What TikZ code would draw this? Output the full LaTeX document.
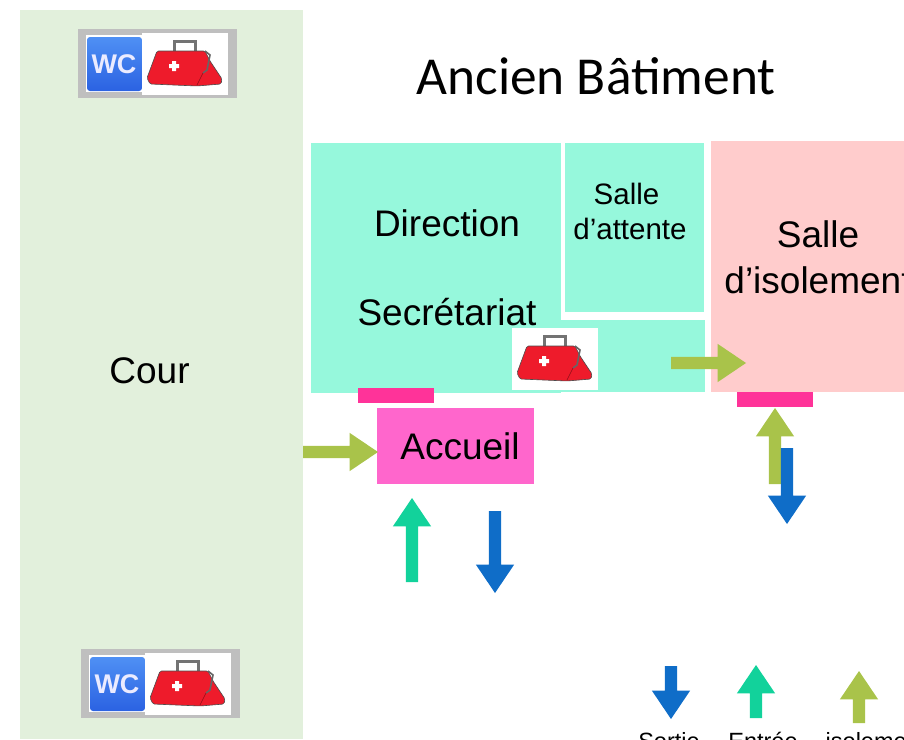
\documentclass[tikz,border=0pt]{standalone}
\usepackage{fontspec}
\setmainfont{Liberation Sans}
\newfontfamily\titlefont{Carlito}
\usetikzlibrary{shapes.arrows}
\definecolor{courgreen}{HTML}{E2F0DC}
\definecolor{roomteal}{HTML}{96F8DC}
\definecolor{roompink}{HTML}{FFCCCC}
\definecolor{doorpink}{HTML}{FF3399}
\definecolor{deskpink}{HTML}{FF66CC}
\definecolor{isolgreen}{HTML}{A9C34A}
\definecolor{entryteal}{HTML}{12D29B}
\definecolor{exitblue}{HTML}{0F6DC8}
\definecolor{bagred}{HTML}{EE1B2B}
\definecolor{wctop}{HTML}{4F90F4}
\definecolor{wcbottom}{HTML}{2B62E2}
\tikzset{
	blockarrow/.style={single arrow,inner sep=6pt,outer sep=0pt,anchor=tail,draw=none,minimum height=#1,
		single arrow head extend=13pt,single arrow tip angle=68},
	isolarrow/.style={blockarrow=#1,fill=isolgreen},
	entryarrow/.style={blockarrow=#1,fill=entryteal},
	exitarrow/.style={blockarrow=#1,fill=exitblue},
	label/.style={font=\fontsize{37}{37}\selectfont,align=center,inner sep=0pt},
	legend/.style={font=\fontsize{23.5}{24}\selectfont,inner sep=0pt,anchor=base},
	bag/.pic={
		\fill[white] (0,0) rectangle (86,62);
		\draw[line width=3pt,black!55] (32,19) -- (32,8) -- (53,8) -- (53,19);
		\fill[bagred,draw=black!70,line width=.6pt,rounded corners=1.5pt] (15,18) -- (63,18) -- (68,28) -- (80,46) -- (79,51) -- (55,53) -- (8,51) -- (5,45) -- cycle;
		\draw[black!60,line width=1.6pt] (63,18) -- (68,22) -- (65,37) -- (61,40);
		\draw[bagred!60!black,line width=.6pt] (61,40) -- (55,52);
		\fill[white] (30,28) rectangle (34,38) (27,31) rectangle (37,35);
	},
	toilet/.pic={
		\fill[black!25] (0,0) rectangle (159,69);
		\fill[white] (8,6) rectangle (64,63);
		\shade[top color=wctop,bottom color=wcbottom,rounded corners=3pt] (9,8) rectangle (64,62);
		\node[text=white!92!blue,font=\bfseries\fontsize{27}{27}\selectfont,inner sep=0pt] (-wc) at (36,35) {WC};
		\pic at (64,4) {bag};
	}
}
\begin{document}
\begin{tikzpicture}[x=1pt,y=-1pt]
	\clip (0,0) rectangle (904,739);
	% rooms
	\fill[courgreen] (20,10) rectangle (303,739);
	\fill[roomteal] (311,143) rectangle (561,393);
	\fill[roomteal] (561,320) rectangle (705,392);
	\fill[roomteal] (565,143) rectangle (704,312);
	\fill[roompink] (711,141) rectangle (904,392);
	\fill[deskpink] (377,408) rectangle (534,484);
	\fill[doorpink] (358,388) rectangle (434,403);
	\fill[doorpink] (737,392) rectangle (813,407);
	% icons
	\pic at (78,29) {toilet};
	\pic at (81,649) {toilet};
	\pic at (512,328) {bag};
	% labels
	\node[font=\titlefont\fontsize{53.4}{54}\selectfont,inner sep=0pt] (title) at (596,76) {Ancien Bâtiment};
	\node[label] (cour) at (149.5,371) {Cour};
	\node[label] (direction) at (447,223) {Direction};
	\node[label] (secretariat) at (447,312) {Secrétariat};
	\node[label] (accueil) at (460,446) {Accueil};
	\node[label,font=\fontsize{29.5}{35}\selectfont] (attente) at (630,211) {Salle\hspace*{7pt}\\d’attente};
	\node[label,font=\fontsize{37}{46}\selectfont] (isolement) at (818,257) {Salle\\d’isolement};
	% arrows
	\node[isolarrow=75] (courarrow) at (303,452) {};
	\node[isolarrow=75] (sallearrow) at (671,363) {};
	\node[entryarrow=84,rotate=90] (entryarrow) at (412,582) {};
	\node[exitarrow=82,rotate=-90] (exitarrow) at (495,511) {};
	\node[isolarrow=76,rotate=90] (isolup) at (775,484) {};
	\node[exitarrow=76,rotate=-90] (isoldown) at (787,448) {};
	% legend
	\node[exitarrow=53,rotate=-90] (legendexit) at (671,666) {};
	\node[entryarrow=53,rotate=90] (legendentry) at (756,718) {};
	\node[isolarrow=52,rotate=90] (legendisol) at (859,723) {};
	\node[legend] (sortie) at (669,749) {Sortie};
	\node[legend] (entree) at (763,749) {Entrée};
	\node[legend] (isol) at (876,749) {isolement};
\end{tikzpicture}
\end{document}
